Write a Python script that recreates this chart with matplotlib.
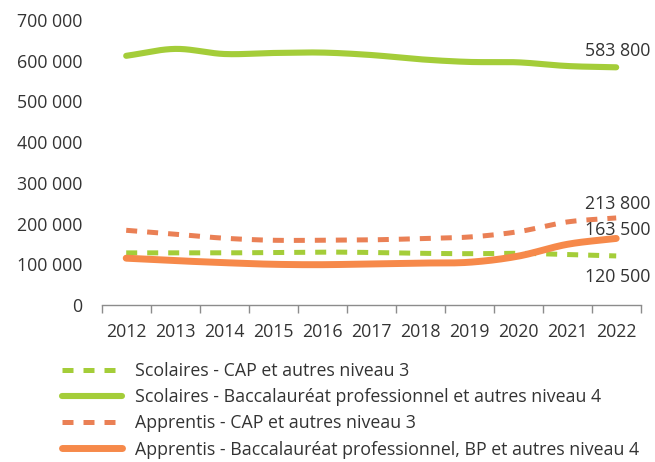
import numpy as np
import matplotlib
matplotlib.use("Agg")
import matplotlib.pyplot as plt
from matplotlib.ticker import FuncFormatter, FixedLocator
from matplotlib.lines import Line2D

plt.rcParams['font.family'] = ['Open Sans', 'DejaVu Sans']

years = ["2012", "2013", "2014", "2015", "2016", "2017", "2018", "2019", "2020", "2021", "2022"]
scol_cap = [128000, 128000, 128000, 129000, 130000, 129000, 127000, 126000, 127000, 124000, 120500]
scol_bac = [612000, 629000, 616500, 619000, 620000, 614000, 603500, 597000, 596000, 587000, 583800]
appr_cap = [183500, 174000, 164000, 159000, 159000, 160000, 163000, 167000, 180000, 204000, 213800]
appr_bac = [115000, 109000, 104000, 100000, 99000, 101000, 103000, 105000, 120000, 149000, 163500]
labels = ["Scolaires - CAP et autres niveau 3",
          "Scolaires - Baccalauréat professionnel et autres niveau 4",
          "Apprentis - CAP et autres niveau 3",
          "Apprentis - Baccalauréat professionnel, BP et autres niveau 4"]

GREEN = "#A4CD39"
ORANGE = "#F6894A"
ORANGE_D = "#EA8055"
TXT = "#333333"
FS = 12.8


def smooth(x, y, n=20):
    x = np.asarray(x, float)
    y = np.asarray(y, float)
    px = np.concatenate([[2 * x[0] - x[1]], x, [2 * x[-1] - x[-2]]])
    py = np.concatenate([[2 * y[0] - y[1]], y, [2 * y[-1] - y[-2]]])
    xs, ys = [], []
    t = np.linspace(0, 1, n, endpoint=False)
    for i in range(1, len(px) - 2):
        p0, p1, p2, p3 = py[i - 1], py[i], py[i + 1], py[i + 2]
        q0, q1, q2, q3 = px[i - 1], px[i], px[i + 1], px[i + 2]
        for (a0, a1, a2, a3, out) in ((p0, p1, p2, p3, ys), (q0, q1, q2, q3, xs)):
            v = 0.5 * ((2 * a1) + (-a0 + a2) * t + (2 * a0 - 5 * a1 + 4 * a2 - a3) * t ** 2
                       + (-a0 + 3 * a1 - 3 * a2 + a3) * t ** 3)
            out.extend(v)
    xs.append(x[-1])
    ys.append(y[-1])
    return np.array(xs), np.array(ys)


fig = plt.figure(figsize=(6.55, 4.62), dpi=100)
W, H = 655, 462
ax = fig.add_axes([101.7 / W, 1 - 305 / H, (640.7 - 101.7) / W, (305 - 20) / H])

x = np.arange(len(years))
dash = (0, (2.2, 2.0))
series = [
    (scol_cap, GREEN, 3.6, dash, 'butt'),
    (scol_bac, GREEN, 4.4, '-', 'round'),
    (appr_cap, ORANGE_D, 3.6, dash, 'butt'),
    (appr_bac, ORANGE, 5.0, '-', 'round'),
]
handles = []
for vals, c, lw, ls, cap in series:
    sx, sy = smooth(x, vals)
    ax.plot(sx, sy, color=c, lw=lw, linestyle=ls, solid_capstyle=cap,
            dash_capstyle='butt', clip_on=False)
    handles.append(Line2D([], [], color=c, lw=lw, linestyle=ls,
                          solid_capstyle=cap, dash_capstyle='butt'))

ax.set_xlim(-0.5, len(years) - 0.5)
ax.set_ylim(0, 700000)
ax.xaxis.set_major_locator(FixedLocator(np.arange(-0.5, len(years), 1.0)))
ax.xaxis.set_major_formatter(plt.NullFormatter())
ax.xaxis.set_minor_locator(FixedLocator(x))
ax.set_xticklabels(years, minor=True)
ax.tick_params(axis='x', which='major', length=6, width=1, color='#8c8c8c', direction='out')
ax.tick_params(axis='x', which='minor', length=0, pad=13, labelsize=FS, labelcolor=TXT)
ax.set_yticks(np.arange(0, 700001, 100000))
ax.yaxis.set_major_formatter(FuncFormatter(lambda v, p: f"{v:,.0f}".replace(",", " ")))
ax.tick_params(axis='y', length=0, pad=14, labelsize=FS, labelcolor=TXT)
for s in ['top', 'right', 'left']:
    ax.spines[s].set_visible(False)
ax.spines['bottom'].set_color('#8c8c8c')
ax.spines['bottom'].set_linewidth(1)

last = len(years) - 1
ends = [(scol_bac, -16), (appr_cap, -14), (appr_bac, -8), (scol_cap, 21)]
for vals, dy in ends:
    ax.annotate(f"{vals[-1]:,.0f}".replace(",", " "), xy=(last, vals[-1]),
                xytext=(34.5 * 0.72, -dy * 0.72), textcoords='offset points',
                ha='right', va='center', fontsize=FS, color=TXT, annotation_clip=False)

fig.legend(handles, labels, loc='upper left', bbox_to_anchor=(62 / W, 1 - 362 / H),
           frameon=False, borderpad=0, borderaxespad=0, handlelength=3.4,
           handletextpad=0.72, labelspacing=0.46, fontsize=FS, labelcolor=TXT)

fig.savefig("out.png", dpi=100)
